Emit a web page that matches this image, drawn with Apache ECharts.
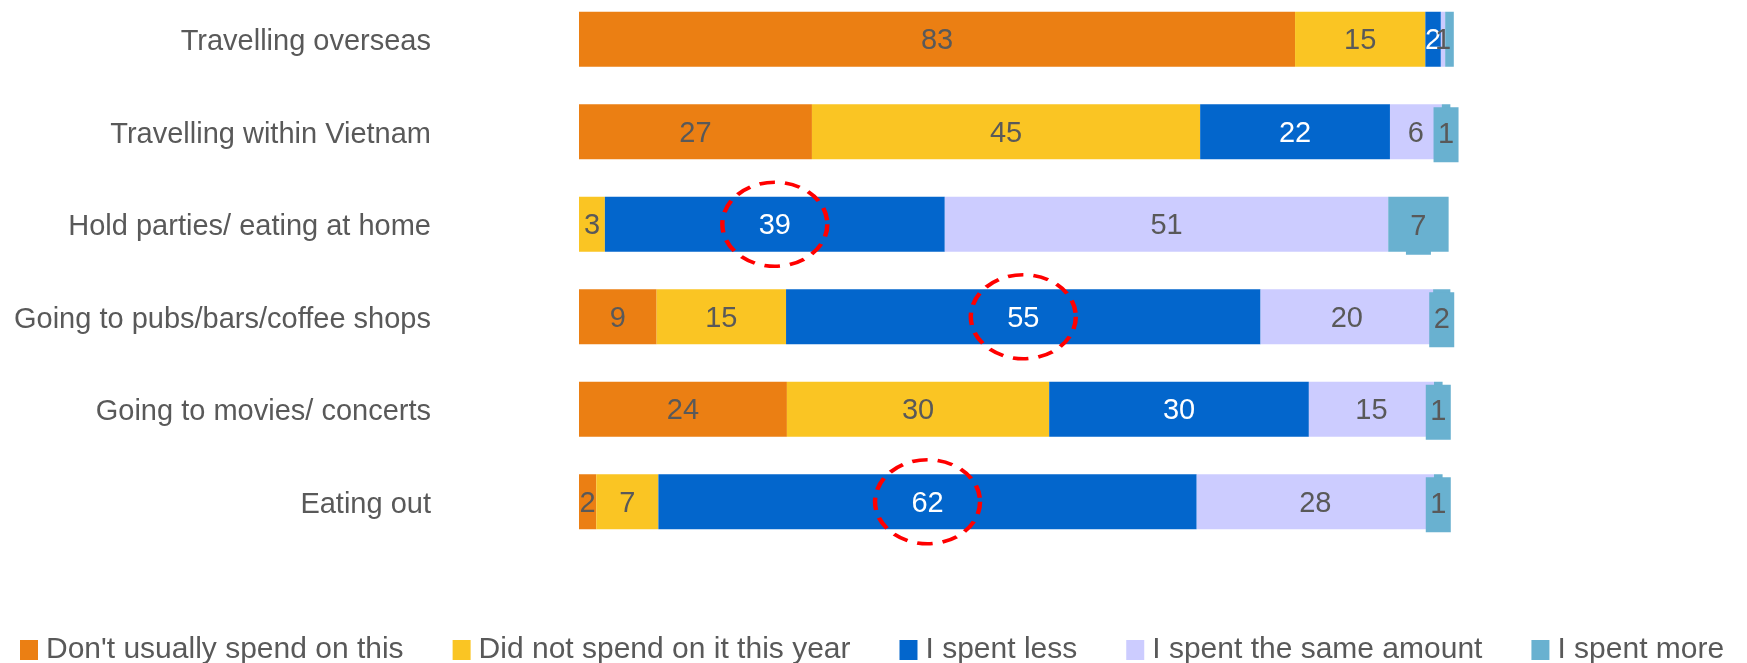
<!DOCTYPE html>
<html>
<head>
<meta charset="utf-8">
<style>
  html, body { margin: 0; padding: 0; background: #fff; overflow: hidden; }
  /* shifted up a little so the first bar can sit close to the top edge */
  #chart-container { position: relative; top: -8px; width: 1747px; height: 671px; }
</style>
<script src="https://cdn.jsdelivr.net/npm/echarts@6/dist/echarts.min.js"></script>
</head>
<body>
<div id="chart-container"></div>
<script>
var categories = [
    'Travelling overseas',
    'Travelling within Vietnam',
    'Hold parties/ eating at home',
    'Going to pubs/bars/coffee shops',
    'Going to movies/ concerts',
    'Eating out'
];
var seriesNames = [
    "Don't usually spend on this",
    'Did not spend on it this year',
    'I spent less',
    'I spent the same amount',
    'I spent more'
];
var dontSpend = [83, 27, 0, 9, 24.1, 2];
var notThisYear = [15.1, 45, 3, 15, 30.4, 7.2];
var spentLess = [1.8, 22, 39.4, 55, 30.1, 62.4];
var spentSame = [0.5, 6, 51.4, 20, 14.5, 27.5];
var spentMore = [1, 1, 7, 2, 1, 1];
// rows where "I spent less" is circled
var circled = [2, 3, 5];

var colors = ['#EB7F13', '#FAC523', '#0366CC', '#CCCCFF', '#69B1D0'];
var labelColors = ['#595959', '#595959', '#ffffff', '#595959', '#595959'];
var allData = [dontSpend, notThisYear, spentLess, spentSame, spentMore];
var font = 'Liberation Sans, Arial, sans-serif';

var dom = document.getElementById('chart-container');
var myChart = echarts.init(dom, null, {renderer: 'canvas'});

// ellipse centres sit in the middle of the "I spent less" segment
var marks = circled.map(function (i) {
    var x = dontSpend[i] + notThisYear[i] + spentLess[i] / 2;
    return {coord: [x, categories[i]]};
});

var series = allData.map(function (d, k) {
    var s = {
        name: seriesNames[k],
        type: 'bar',
        stack: 'total',
        barWidth: 55,
        clip: false,
        itemStyle: {color: colors[k]},
        label: {
            show: true,
            position: 'inside',
            offset: [0, 2],
            color: labelColors[k],
            fontSize: 29,
            fontFamily: font,
            formatter: function (p) {
                return p.value === 0 ? '' : Math.round(p.value);
            }
        },
        emphasis: {disabled: true},
        data: d
    };
    if (k === 4) {
        // "I spent more" labels carry their own little box
        s.label.backgroundColor = colors[4];
        s.label.width = 25;
        s.label.height = 55;
        s.label.lineHeight = 59;
        s.label.align = 'center';
        s.label.offset = [0, 3];
        s.data = d.map(function (v, i) {
            return i === 0 ? {value: v, label: {show: false}} : v;
        });
    }
    if (k === 2) {
        s.markPoint = {
            symbol: 'circle',
            symbolSize: [105, 84],
            silent: true,
            label: {show: false},
            itemStyle: {
                color: 'rgba(0,0,0,0)',
                borderColor: '#FF0000',
                borderWidth: 4,
                borderType: [14, 9]
            },
            data: marks
        };
    }
    return s;
});

var option = {
    animation: false,
    color: colors,
    grid: {
        left: 579,
        right: 219,
        top: 1,
        bottom: 115,
        containLabel: false
    },
    xAxis: {
        type: 'value',
        min: 0,
        max: 110,
        show: false
    },
    yAxis: {
        type: 'category',
        inverse: true,
        data: categories,
        axisLine: {show: false},
        axisTick: {show: false},
        axisLabel: {
            margin: 148,
            color: '#595959',
            fontSize: 29,
            fontFamily: font,
            formatter: function (v) {
                return '{a|' + v + '}';
            },
            rich: {
                a: {
                    color: '#595959',
                    fontSize: 29,
                    fontFamily: font,
                    padding: [6, 0, 0, 0]
                }
            }
        }
    },
    legend: {
        data: seriesNames,
        left: 15,
        top: 638,
        itemWidth: 18,
        itemHeight: 20,
        itemGap: 49,
        icon: 'rect',
        textStyle: {
            color: '#595959',
            fontSize: 30,
            fontFamily: font,
            padding: [0, 0, 0, 3]
        }
    },
    series: series
};

myChart.setOption(option);
window.addEventListener('resize', myChart.resize);
</script>
</body>
</html>
